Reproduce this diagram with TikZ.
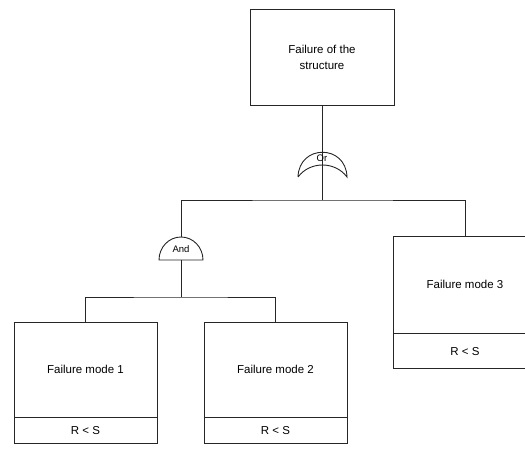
\documentclass[tikz,border=0pt]{standalone}
\usepackage{fontspec}
\setsansfont{Liberation Sans}
\usepackage{tikz}

\begin{document}
\begin{tikzpicture}[x=1pt,y=1pt,line width=0.9pt,draw=black!85,
    modebox/.style={draw,inner sep=0pt,minimum width=143pt,
        font=\sffamily\fontsize{11.5}{16}\selectfont,align=center},
    gatetext/.style={inner sep=0pt,font=\sffamily\fontsize{9.5}{10}\selectfont}]
\useasboundingbox (0,0) rectangle (525,455);
\clip (0,0) rectangle (525,455);

% Top event
\node[modebox,minimum width=144pt,minimum height=96pt] (top) at (322,398) {Failure of the\\structure};

% Or gate
\coordinate (orjoint) at (322,255);
\draw (top.south) -- (orjoint);
\draw (298,278) .. controls (299,311) and (346,311) .. (347,278)
      .. controls (335,294) and (310,294) .. (298,278);
\node[gatetext] (orlabel) at (322,296.5) {Or};

% Failure mode 3
\node[modebox,minimum width=144pt,minimum height=97pt] (mode3) at (465,170.5) {Failure mode 3};
\node[modebox,minimum width=144pt,minimum height=35pt,anchor=north] (cond3) at (mode3.south) {R < S};

% And gate
\coordinate (andbase) at (181,195);
\coordinate (andtop) at (181,218);
\draw (andbase) ++(-22pt,0) arc[start angle=180,end angle=0,x radius=22pt,y radius=23pt] -- cycle;
\node[gatetext] (andlabel) at (181,206) {And};
\draw (andtop) |- (orjoint) -| (mode3.north);

% Failure modes 1 and 2
\node[modebox,minimum height=95pt] (mode1) at (85.5,85.5) {Failure mode 1};
\node[modebox,minimum height=26pt,anchor=north] (cond1) at (mode1.south) {R < S};
\node[modebox,minimum height=95pt] (mode2) at (275.5,85.5) {Failure mode 2};
\node[modebox,minimum height=26pt,anchor=north] (cond2) at (mode2.south) {R < S};
\coordinate (andjoint) at (181,158);
\draw (andbase) -- (andjoint);
\draw (mode1.north) |- (andjoint) -| (mode2.north);
\end{tikzpicture}
\end{document}
